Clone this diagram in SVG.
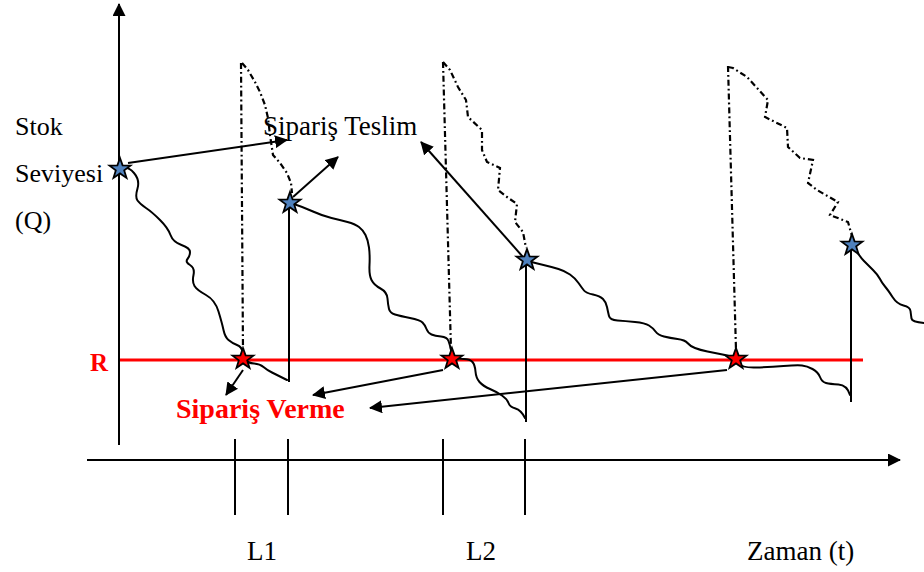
<svg xmlns="http://www.w3.org/2000/svg" width="924" height="572" viewBox="0 0 924 572">
<style>
.ln{fill:none;stroke:#000;stroke-width:2}
.dd{fill:none;stroke:#000;stroke-width:2.2;stroke-dasharray:6 3 1.8 3}
.cv{fill:none;stroke:#000;stroke-width:2;stroke-linejoin:round;stroke-linecap:round}
.ar{fill:none;stroke:#000;stroke-width:2;marker-end:url(#ah)}
.rl{fill:none;stroke:#ff0000;stroke-width:3}
.t{font-family:"Liberation Serif","Times New Roman",serif;fill:#000}
.tr{font-family:"Liberation Serif","Times New Roman",serif;fill:#ff0000;font-weight:bold}
.sb{fill:#4f81bd;stroke:#000;stroke-width:1.8;stroke-linejoin:miter}
.sr{fill:#ff0000;stroke:#000;stroke-width:1.8;stroke-linejoin:miter}
</style>
<defs>
<marker id="ah" viewBox="0 0 13 13" refX="12" refY="6.5" markerWidth="13" markerHeight="13" markerUnits="userSpaceOnUse" orient="auto">
<path d="M0,0 L13,6.5 L0,13 Z" fill="#000"/>
</marker>
<path id="star" d="M0,-11 L2.6,-3.6 L10.5,-3.4 L4.2,1.4 L6.5,8.9 L0,4.4 L-6.5,8.9 L-4.2,1.4 L-10.5,-3.4 L-2.6,-3.6 Z"/>
</defs>
<rect width="924" height="572" fill="#fff"/>
<g id="axes">
<line class="ar" x1="119" y1="445" x2="119" y2="4"/>
<line class="ar" x1="87" y1="460" x2="900" y2="460"/>
<line class="ln" x1="235" y1="439" x2="235" y2="515"/>
<line class="ln" x1="288" y1="439" x2="288" y2="515"/>
<line class="ln" x1="443" y1="439" x2="443" y2="515"/>
<line class="ln" x1="525" y1="439" x2="525" y2="515"/>
</g>
<g id="reorder-level">
<line class="rl" x1="120" y1="360" x2="863" y2="360"/>
</g>
<g id="lead-time-lines">
<line class="dd" x1="241" y1="63" x2="243" y2="350"/>
<line class="dd" x1="443" y1="62" x2="451" y2="350"/>
<line class="dd" x1="728" y1="66" x2="736" y2="350"/>
<polyline class="dd" points="242,63 248,70 255,82 260,92 265,105 268,118 270,135 273,155 280,163 287,173 291,183 292,193"/>
<polyline class="dd" points="443,62 450,70 458,87 466,100 468,117 482,130 482,150 487,162 500,168 498,190 507,197 517,204 515,222 523,232 526,248"/>
<polyline class="dd" points="728,67 733,68 747,77 768,100 765,117 787,128 788,147 800,158 813,160 808,183 817,190 838,202 830,215 848,222 852,236"/>
</g>
<g id="replenishment-lines">
<line class="ln" x1="289" y1="203" x2="289" y2="382"/>
<line class="ln" x1="526" y1="260" x2="526" y2="422"/>
<line class="ln" x1="851" y1="245" x2="851" y2="402"/>
</g>
<g id="stock-curves">
<path class="cv" d="M121,168 Q128,166 134,173 Q140,180 137.5,188.5 Q135,197 137.5,200.5 Q140,204 146,208 Q152,212 160,220 Q168,228 170.5,235 Q173,242 181.5,245 Q190,248 190,252 Q190,256 187.5,259 Q185,262 190,265 Q195,268 193.5,275 Q192,282 194.5,286 Q197,290 206,295 Q215,300 218.5,311.5 Q222,323 223.5,330 Q225,337 228.5,340 Q232,343 237,345 Q242,347 242.5,352 Q243,357 245.5,360 Q248,363 254,363.5 Q260,364 263.5,367 Q267,370 272,372.5 Q277,375 287,380"/>
<path class="cv" d="M291,203 Q303,207 313,211.5 Q323,216 331.5,218 Q340,220 347.5,222 Q355,224 359,227 Q363,230 365.5,235 Q368,240 369,247.5 Q370,255 369.5,265 Q369,275 371.5,280 Q374,285 380.5,288.5 Q387,292 387.5,298.5 Q388,305 389,309 Q390,313 395,314.5 Q400,316 410,318 Q420,320 422.5,322.5 Q425,325 426.5,329 Q428,333 431.5,334.5 Q435,336 441,336.5 Q447,337 448.5,341 Q450,345 451,350 Q452,355 455,357 Q458,359 464,359 Q470,359 472.5,362 Q475,365 475.5,371.5 Q476,378 479.5,382 Q483,386 490,389 Q497,392 502,395.5 Q507,399 508.5,403 Q510,407 515.5,408.5 Q521,410 525,418"/>
<path class="cv" d="M528,261 Q535,263 543.5,265 Q552,267 558.5,269 Q565,271 570,274.5 Q575,278 578.5,283 Q582,288 584,290.5 Q586,293 593,294.5 Q600,296 603,299 Q606,302 607,307 Q608,312 609,316 Q610,320 617.5,320.5 Q625,321 635,322 Q645,323 649,325.5 Q653,328 655.5,331.5 Q658,335 664,336.5 Q670,338 677.5,339 Q685,340 687.5,343 Q690,346 695,348 Q700,350 707.5,351.5 Q715,353 725,355 Q735,357 738,363 Q742,368 756,367.5 Q770,367 783.5,366 Q797,365 802,365.5 Q807,366 812.5,369 Q818,372 820,377 Q822,382 826,383 Q830,384 838.5,384.5 Q847,385 850,395"/>
<path class="cv" d="M853,246 Q860,257 864,261 Q868,265 873,270 Q878,275 880,279 Q882,283 885,286.5 Q888,290 892.5,297 Q897,304 903.5,305.5 Q910,307 910.5,311 Q911,315 911.5,318.5 Q912,322 924,323"/>
</g>
<g id="connectors">
<line class="ar" x1="128" y1="163" x2="287" y2="140"/>
<line class="ar" x1="293" y1="197" x2="338" y2="157"/>
<line class="ar" x1="523" y1="257" x2="421" y2="142"/>
<line class="ar" x1="243" y1="370" x2="226" y2="395"/>
<line class="ar" x1="443" y1="370" x2="313" y2="395"/>
<line class="ar" x1="727" y1="370" x2="370" y2="408"/>
</g>
<g id="star-delivery-1"><use href="#star" class="sb" x="120" y="169"/></g>
<g id="star-delivery-2"><use href="#star" class="sb" x="290" y="203"/></g>
<g id="star-delivery-3"><use href="#star" class="sb" x="527" y="260"/></g>
<g id="star-delivery-4"><use href="#star" class="sb" x="852" y="245"/></g>
<g id="star-order-1"><use href="#star" class="sr" x="243" y="359"/></g>
<g id="star-order-2"><use href="#star" class="sr" x="452" y="359"/></g>
<g id="star-order-3"><use href="#star" class="sr" x="736" y="359"/></g>
<g id="label-stock">
<text class="t" x="15" y="135" font-size="26">Stok</text>
<text class="t" x="15" y="182" font-size="26">Seviyesi</text>
<text class="t" x="15" y="229" font-size="26">(Q)</text>
</g>
<g id="label-R"><text class="tr" x="90" y="371" font-size="25">R</text></g>
<g id="label-teslim"><text class="t" x="263" y="135" font-size="27">Sipariş Teslim</text></g>
<g id="label-verme"><text class="tr" x="176" y="418" font-size="28">Sipariş Verme</text></g>
<g id="label-L1"><text class="t" x="247" y="560" font-size="27">L1</text></g>
<g id="label-L2"><text class="t" x="466" y="560" font-size="27">L2</text></g>
<g id="label-time"><text class="t" x="747" y="560" font-size="27">Zaman (t)</text></g>
</svg>
